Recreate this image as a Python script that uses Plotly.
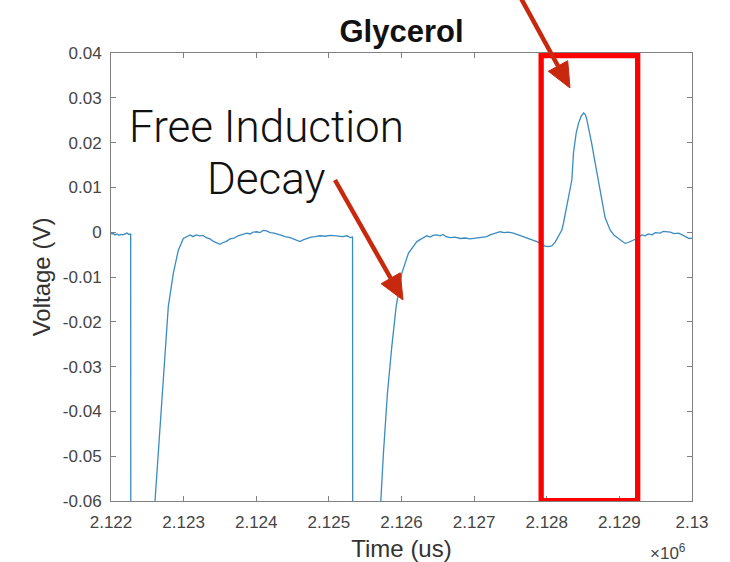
import plotly.graph_objects as go

# ---- data (time in microseconds, voltage in volts) ----
time_us = [
    2122000, 2122028, 2122055, 2122083, 2122110, 2122138, 2122165, 2122193, 2122220, 2122248, 2122271,
    2122276, 2122580,
    2122606, 2122651, 2122698, 2122744, 2122789, 2122858, 2122927, 2122996, 2123043,
    2123088, 2123129, 2123171, 2123226, 2123267, 2123309, 2123364, 2123405, 2123446, 2123501,
    2123543, 2123584, 2123639, 2123694, 2123749, 2123804, 2123869, 2123915, 2123956, 2124007,
    2124052, 2124094, 2124145, 2124190, 2124245, 2124328, 2124397, 2124466, 2124534, 2124603,
    2124645, 2124696, 2124755, 2124810, 2124879, 2124948, 2125017, 2125109, 2125182, 2125251,
    2125292, 2125326,
    2125332, 2125698,
    2125715, 2125751, 2125806, 2125866, 2125926, 2126004, 2126095, 2126211, 2126348,
    2126394, 2126435, 2126486, 2126532, 2126573, 2126614, 2126669, 2126738, 2126807, 2126876,
    2126945, 2127014, 2127083, 2127175, 2127220, 2127289, 2127358, 2127413, 2127468, 2127541,
    2127606, 2127661, 2127726, 2127785, 2127864, 2127923, 2127978, 2128023, 2128074, 2128116,
    2128157, 2128208, 2128230, 2128260, 2128299, 2128346, 2128368, 2128405, 2128437, 2128474,
    2128508, 2128529, 2128550, 2128574, 2128618, 2128667, 2128712, 2128759, 2128804, 2128873,
    2128928, 2128988, 2129039, 2129080, 2129121, 2129172, 2129241, 2129310, 2129355, 2129397,
    2129452, 2129493, 2129562, 2129603, 2129654, 2129700, 2129755, 2129814, 2129865, 2129920,
    2129961, 2130000,
]
voltage_v = [
    -0.0004, -0.0003, -0.0006, -0.0004, -0.0007, -0.0005, -0.0006, -0.0004, -0.0002, -0.0005, -0.0004,
    -0.2000, -0.2000,
    -0.0600, -0.0494, -0.0360, -0.0256, -0.0166, -0.0092, -0.0040, -0.0014, -0.0010,
    -0.0006, -0.0010, -0.0006, -0.0008, -0.0007, -0.0012, -0.0015, -0.0020, -0.0023, -0.0027,
    -0.0023, -0.0021, -0.0015, -0.0013, -0.0008, -0.0006, -0.0002, -0.0004, 0.0000, 0.0001,
    -0.0001, 0.0004, 0.0003, -0.0001, -0.0002, -0.0006, -0.0010, -0.0012, -0.0016, -0.0021,
    -0.0017, -0.0014, -0.0011, -0.0010, -0.0008, -0.0009, -0.0007, -0.0008, -0.0010, -0.0008,
    -0.0012, -0.0011,
    -0.2000, -0.2000,
    -0.0600, -0.0494, -0.0360, -0.0256, -0.0166, -0.0092, -0.0047, -0.0021, -0.0008,
    -0.0011, -0.0007, -0.0006, -0.0008, -0.0005, -0.0010, -0.0012, -0.0011, -0.0014, -0.0013,
    -0.0015, -0.0013, -0.0012, -0.0010, -0.0006, -0.0002, 0.0001, -0.0001, 0.0000, -0.0002,
    -0.0006, -0.0008, -0.0012, -0.0016, -0.0021, -0.0026, -0.0031, -0.0032, -0.0030, -0.0022,
    -0.0011, 0.0005, 0.0020, 0.0045, 0.0072, 0.0117, 0.0177, 0.0221, 0.0243, 0.0259,
    0.0266, 0.0263, 0.0253, 0.0235, 0.0199, 0.0154, 0.0112, 0.0065, 0.0032, 0.0005,
    -0.0007, -0.0014, -0.0020, -0.0025, -0.0023, -0.0019, -0.0014, -0.0006, -0.0008, -0.0004,
    -0.0006, -0.0001, -0.0002, 0.0002, 0.0001, 0.0000, -0.0003, -0.0002, -0.0006, -0.0011,
    -0.0014, -0.0013,
]

x_tick_vals = [2122000, 2123000, 2124000, 2125000, 2126000, 2127000, 2128000, 2129000, 2130000]
x_tick_text = ["2.122", "2.123", "2.124", "2.125", "2.126", "2.127", "2.128", "2.129", "2.13"]
y_tick_vals = [0.04, 0.03, 0.02, 0.01, 0.0, -0.01, -0.02, -0.03, -0.04, -0.05, -0.06]
y_tick_text = ["0.04", "0.03", "0.02", "0.01", "0", "-0.01", "-0.02", "-0.03", "-0.04", "-0.05", "-0.06"]

# echo highlight box (data coordinates)
echo_box_t = [2127923, 2129252]
echo_box_v = [-0.0599, 0.0394]

FONT = "Liberation Sans, Arial, Helvetica, sans-serif"
AXIS_COLOR = "#808080"
TICK_COLOR = "#454545"
ARROW_RED = "#c8290e"

fig = go.Figure()
fig.add_trace(go.Scatter(
    x=time_us, y=voltage_v, mode="lines",
    line=dict(color="#3a8bc2", width=1.3),
    showlegend=False, hoverinfo="x+y",
))

axis_common = dict(
    showgrid=False, zeroline=False, automargin=False,
    showline=True, linecolor=AXIS_COLOR, linewidth=1,
    mirror="ticks", ticks="inside", ticklen=5, tickcolor=AXIS_COLOR, tickwidth=1,
    tickfont=dict(family=FONT, size=17, color=TICK_COLOR),
)

fig.update_xaxes(
    range=[2122000, 2130000], tickvals=x_tick_vals, ticktext=x_tick_text, ticklabelstandoff=6,
    title=dict(text="Time (us)", font=dict(family=FONT, size=24, color="#333333"), standoff=8),
    **axis_common,
)
fig.update_yaxes(
    range=[-0.06, 0.04], tickvals=y_tick_vals, ticktext=y_tick_text, ticklabelstandoff=5,
    title=dict(text="Voltage (V)", font=dict(family=FONT, size=24, color="#333333"), standoff=5),
    **axis_common,
)

# red box around the echo
fig.add_shape(
    type="rect", xref="x", yref="y",
    x0=echo_box_t[0], x1=echo_box_t[1], y0=echo_box_v[0], y1=echo_box_v[1],
    line=dict(color="#ff0000", width=5.3), fillcolor="rgba(0,0,0,0)",
)

# callout arrows (paper coordinates): shaft + triangular head
arrow_specs = [
    # (tail, head-base, tip, corner1, corner2)
    ((0.6979, 1.1406), (0.7694, 0.9709), (0.7900, 0.9219), (0.7527, 0.9592), (0.7861, 0.9826)),
    ((0.3855, 0.7165), (0.4814, 0.4972), (0.5026, 0.4487), (0.4649, 0.4850), (0.4979, 0.5094)),
]
for tail, base, tip, c1, c2 in arrow_specs:
    fig.add_shape(type="line", xref="paper", yref="paper",
                  x0=tail[0], y0=tail[1], x1=base[0], y1=base[1],
                  line=dict(color=ARROW_RED, width=4.5))
    fig.add_shape(type="path", xref="paper", yref="paper",
                  path=f"M {tip[0]},{tip[1]} L {c1[0]},{c1[1]} L {c2[0]},{c2[1]} Z",
                  fillcolor=ARROW_RED, line=dict(color=ARROW_RED, width=1))

annotations = [
    # x10^6 exponent label
    dict(text="×10<sup>6</sup>", xref="paper", yref="paper", x=0.958, y=-0.1138,
         showarrow=False, xanchor="center", yanchor="middle",
         font=dict(family=FONT, size=17, color=TICK_COLOR)),
    # Free Induction Decay label
    dict(text="Free Induction", xref="paper", yref="paper", x=0.2668, y=0.8348,
         showarrow=False, xanchor="center", yanchor="middle",
         font=dict(family="Roboto, Lato, sans-serif", size=44, color="#111111", weight=300)),
    dict(text="Decay", xref="paper", yref="paper", x=0.2668, y=0.7188,
         showarrow=False, xanchor="center", yanchor="middle",
         font=dict(family="Roboto, Lato, sans-serif", size=44, color="#111111", weight=300)),
]

fig.update_layout(
    width=730, height=562, autosize=False,
    margin=dict(l=111, r=38, t=53, b=61),
    paper_bgcolor="white", plot_bgcolor="white",
    title=dict(text="<b>Glycerol</b>", x=0.5, xref="paper", y=1 - 31 / 562, yref="container",
               xanchor="center", yanchor="middle",
               font=dict(family=FONT, size=31, color="#111111")),
    annotations=annotations,
)

fig.write_html("out.html")
